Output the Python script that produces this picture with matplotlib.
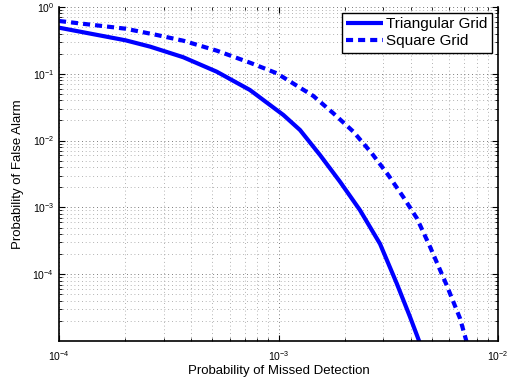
import numpy as np
import matplotlib
matplotlib.use("Agg")
import matplotlib.pyplot as plt

plt.rcParams['font.family'] = ['Liberation Sans', 'DejaVu Sans']

# values (log-log)
tri_pmd = [1e-4, 2.01e-4, 2.60e-4, 3.68e-4, 5.23e-4, 7.41e-4, 1.052e-3, 1.253e-3, 1.545e-3,
           1.905e-3, 2.35e-3, 2.90e-3, 3.455e-3, 3.97e-3, 4.38e-3]
tri_pfa = [0.490, 0.317, 0.255, 0.177, 0.1075, 0.0572, 0.0242, 0.0144, 0.00609,
           0.00243, 9.1e-4, 2.85e-4, 7.3e-5, 2.31e-5, 9.8e-6]

sq_pmd = [1e-4, 2.01e-4, 2.79e-4, 3.68e-4, 5.23e-4, 7.41e-4, 9.82e-4, 1.442e-3, 1.778e-3,
          2.193e-3, 2.66e-3, 3.16e-3, 3.71e-3, 4.27e-3, 4.90e-3, 5.83e-3, 6.71e-3, 7.2e-3]
sq_pfa = [0.617, 0.473, 0.381, 0.313, 0.222, 0.1466, 0.1018, 0.0465, 0.0256,
          0.0136, 0.00646, 0.00306, 1.416e-3, 6.87e-4, 2.58e-4, 6.9e-5, 2.19e-5, 9.6e-6]

labels = ['Triangular Grid', 'Square Grid']
xticks = [1e-4, 1e-3, 1e-2]
yticks = [1e-4, 1e-3, 1e-2, 1e-1, 1e0]

fig = plt.figure(figsize=(5.15, 3.88), dpi=100)
ax = fig.add_axes([0.1146, 0.1211, 0.8524, 0.8609])

ax.loglog(tri_pmd, tri_pfa, color='#0000ff', lw=3, solid_capstyle='butt', label=labels[0])
ax.loglog(sq_pmd, sq_pfa, color='#0000ff', lw=3, dashes=(1.7, 1.2), label=labels[1])

ax.set_xlim(1e-4, 1e-2)
ax.set_ylim(1e-5, 1e0)
ax.set_xticks(xticks)
ax.set_yticks(yticks)

ax.grid(True, which='major', color='0.3', linestyle=(0, (1, 3.5)), lw=0.6)
ax.grid(True, which='minor', color='0.6', linestyle=(0, (1, 3.5)), lw=0.6)
ax.tick_params(which='both', direction='in', top=True, right=True, labelsize=7.5)
ax.tick_params(which='major', length=4, width=0.8)
ax.tick_params(which='minor', length=2, width=0.6)
ax.tick_params(axis='x', pad=6)
for s in ax.spines.values():
    s.set_linewidth(1.2)
ax.spines['top'].set_visible(False)

ax.set_xlabel('Probability of Missed Detection', fontsize=9.5, labelpad=1)
ax.set_ylabel('Probability of False Alarm', fontsize=9.5, labelpad=6)

leg = ax.legend(loc='upper right', bbox_to_anchor=(0.9863, 0.983), fontsize=11,
                fancybox=False, edgecolor='k', framealpha=1, borderaxespad=0,
                handlelength=2.4, handletextpad=0.2, borderpad=0.3, labelspacing=0.2)
leg.get_frame().set_linewidth(1.0)

fig.savefig('out.png', dpi=100)
